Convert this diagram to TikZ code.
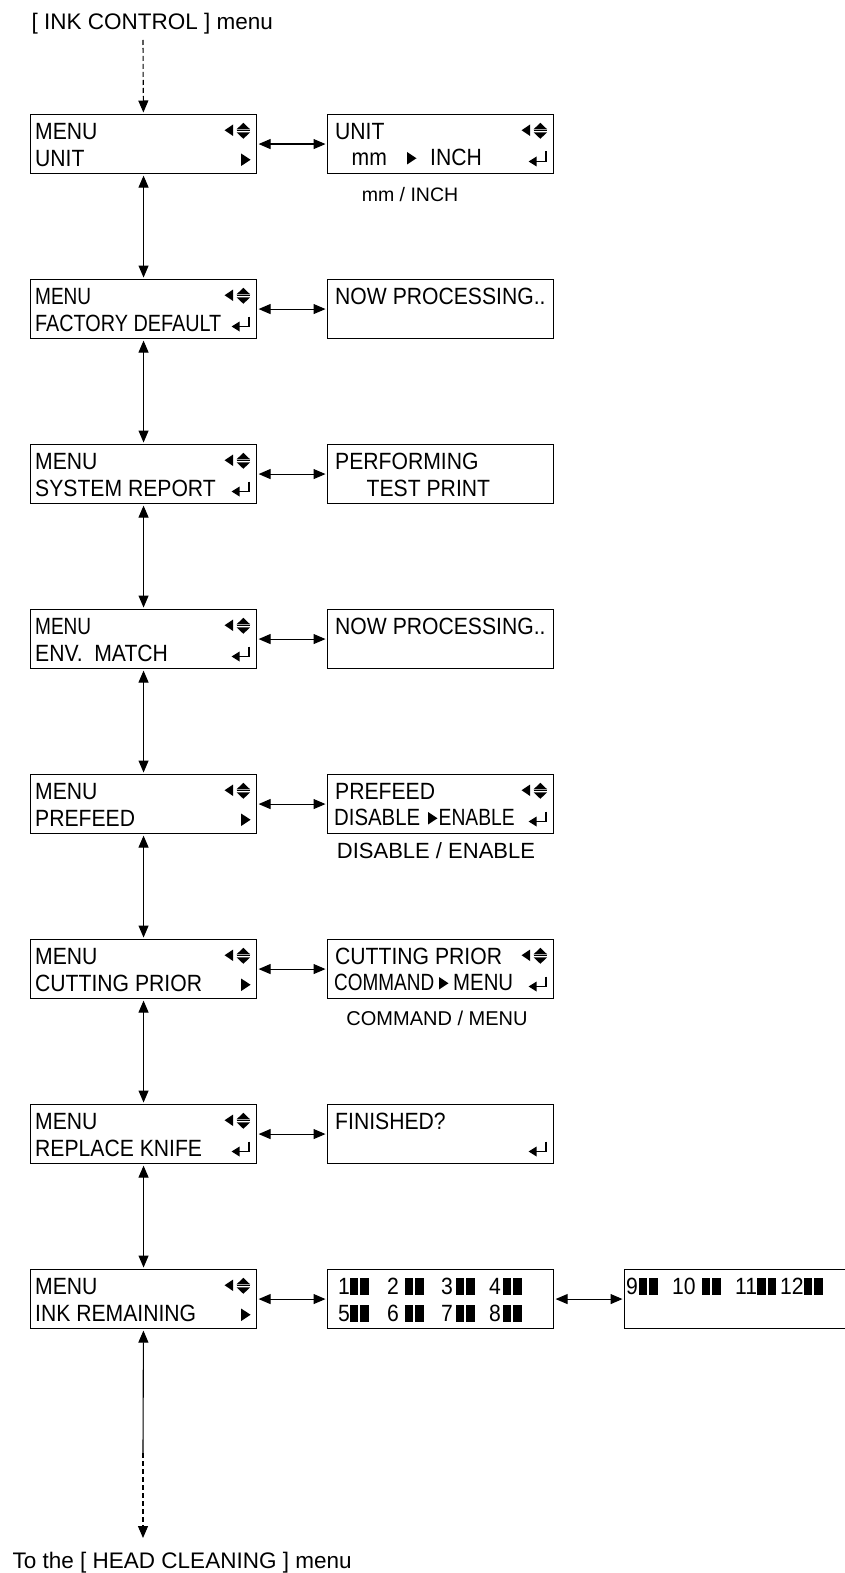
\documentclass[tikz,border=0pt]{standalone}
\usepackage{fontspec}
\usepackage{graphicx}
\setmainfont{Liberation Sans}
\newfontfamily\lcdfont[FakeStretch=0.9]{Liberation Sans}
\usetikzlibrary{arrows.meta}
\newcommand\blk{\rule{8.5pt}{17pt}\hspace{2pt}\rule{8.5pt}{17pt}}
\newcommand\lcdsize{\fontsize{23.5}{26}\selectfont}
\newcommand\fw[2]{\resizebox{#1}{\height}{#2}}
\tikzset{
  panel/.style={draw, line width=1.1pt, minimum width=226pt, minimum height=59pt, inner sep=0pt, anchor=north west},
  lcd/.style={inner sep=0pt, anchor=base west, font=\lcdfont\lcdsize},
  lbl/.style={inner sep=0pt, anchor=base},
  conn/.style={line width=1.1pt, {Triangle[length=12pt,width=10pt]}-{Triangle[length=12pt,width=10pt]}, shorten <=1.5pt, shorten >=1.5pt},
  updn/.pic={
    \fill (-24,10.5) -- (-24,22) -- (-32.5,16.25) -- cycle;
    \fill (-20.5,15.3) -- (-7,15.3) -- (-13.75,8.8) -- cycle;
    \draw[line width=0.8pt] (-20.5,16.8) -- (-7,16.8);
    \fill (-20.5,18.3) -- (-7,18.3) -- (-13.75,24.8) -- cycle;
  },
  rtri/.pic={\fill (0,-1) -- (0,-13.5) -- (9.5,-7.25) -- cycle;},
  ret/.pic={
    \draw[line width=1.7pt] (-8,37.5) -- (-8,47.5) -- (-18,47.5);
    \fill (-25.5,47.5) -- (-17.5,42.5) -- (-17.5,52.5) -- cycle;
  }
}
\begin{document}
\begin{tikzpicture}[x=1pt,y=-1pt]
\clip (0,0) rectangle (845,1573);
\fill[white] (0,0) rectangle (845,1573);

% title
\node[inner sep=0pt, anchor=base west, font=\fontsize{22.5}{24}\selectfont] (title) at (31.5,29.3) {[ INK CONTROL ] menu};
\coordinate (topdash) at (143,40);

% ---------- left panels ----------
\node[panel] (L0) at (30,114) {};
\node[lcd] (L0a) at (35,139.5) {MENU};
\node[lcd] (L0b) at (35,166.5) {UNIT};
\pic at (L0.north east) {updn};
\pic at ([shift={(-16,53)}]L0.north east) {rtri};

\node[panel] (L1) at (30,279) {};
\node[lcd] (L1a) at (35,304.5) {\fw{56pt}{MENU}};
\node[lcd] (L1b) at (35,331.5) {\fw{186pt}{FACTORY DEFAULT}};
\pic at (L1.north east) {updn};
\pic at (L1.north east) {ret};

\node[panel] (L2) at (30,444) {};
\node[lcd] (L2a) at (35,469.5) {MENU};
\node[lcd] (L2b) at (35,496.5) {SYSTEM REPORT};
\pic at (L2.north east) {updn};
\pic at (L2.north east) {ret};

\node[panel] (L3) at (30,609) {};
\node[lcd] (L3a) at (35,634.5) {\fw{56pt}{MENU}};
\node[lcd] (L3b) at (35,661.5) {ENV.\ \ MATCH};
\pic at (L3.north east) {updn};
\pic at (L3.north east) {ret};

\node[panel] (L4) at (30,774) {};
\node[lcd] (L4a) at (35,799.5) {MENU};
\node[lcd] (L4b) at (35,826.5) {PREFEED};
\pic at (L4.north east) {updn};
\pic at ([shift={(-16,53)}]L4.north east) {rtri};

\node[panel] (L5) at (30,939) {};
\node[lcd] (L5a) at (35,964.5) {MENU};
\node[lcd] (L5b) at (35,991.5) {CUTTING PRIOR};
\pic at (L5.north east) {updn};
\pic at ([shift={(-16,53)}]L5.north east) {rtri};

\node[panel] (L6) at (30,1104) {};
\node[lcd] (L6a) at (35,1129.5) {MENU};
\node[lcd] (L6b) at (35,1156.5) {REPLACE KNIFE};
\pic at (L6.north east) {updn};
\pic at (L6.north east) {ret};

\node[panel] (L7) at (30,1269) {};
\node[lcd] (L7a) at (35,1294.5) {MENU};
\node[lcd] (L7b) at (35,1321.5) {INK REMAINING};
\pic at (L7.north east) {updn};
\pic at ([shift={(-16,53)}]L7.north east) {rtri};

% ---------- right panels ----------
\node[panel] (R0) at (327,114) {};
\node[lcd] (R0a) at (335,139.5) {UNIT};
\node[lcd] (R0m) at (351.5,165.5) {mm};
\pic at (407,165.5) {rtri};
\node[lcd] (R0i) at (430,165.5) {INCH};
\pic at (R0.north east) {updn};
\pic at (R0.north east) {ret};
\node[lbl, font=\fontsize{19.5}{22}\selectfont] (R0lbl) at (410,201.5) {mm / INCH};

\node[panel] (R1) at (327,279) {};
\node[lcd] (R1a) at (335,304.5) {NOW PROCESSING..};

\node[panel] (R2) at (327,444) {};
\node[lcd] (R2a) at (335,469.5) {PERFORMING};
\node[lcd] (R2b) at (366.5,496) {TEST PRINT};

\node[panel] (R3) at (327,609) {};
\node[lcd] (R3a) at (335,634.5) {NOW PROCESSING..};

\node[panel] (R4) at (327,774) {};
\node[lcd] (R4a) at (335,799.5) {PREFEED};
\node[lcd] (R4d) at (334,825.5) {\fw{86pt}{DISABLE}};
\pic at (428,825.5) {rtri};
\node[lcd] (R4e) at (438.5,825.5) {\fw{76pt}{ENABLE}};
\pic at (R4.north east) {updn};
\pic at (R4.north east) {ret};
\node[lbl, font=\fontsize{22}{24}\selectfont] (R4lbl) at (436,858) {DISABLE / ENABLE};

\node[panel] (R5) at (327,939) {};
\node[lcd] (R5a) at (335,964.5) {CUTTING PRIOR};
\node[lcd] (R5c) at (334,990.5) {\fw{100pt}{COMMAND}};
\pic at (439,990.5) {rtri};
\node[lcd] (R5m) at (453,990.5) {\fw{60pt}{MENU}};
\pic at (R5.north east) {updn};
\pic at (R5.north east) {ret};
\node[lbl, font=\fontsize{20}{22}\selectfont] (R5lbl) at (437,1025) {COMMAND / MENU};

\node[panel] (R6) at (327,1104) {};
\node[lcd] (R6a) at (335,1129.5) {FINISHED?};
\pic at (R6.north east) {ret};

\node[panel] (R7) at (327,1269) {};
\node[lcd] (R7a) at (338,1294.5) {\makebox[49pt][l]{1\blk}\makebox[54pt][l]{2 \blk}\makebox[48pt][l]{3\hspace{3pt}\blk}4\hspace{2pt}\blk};
\node[lcd] (R7b) at (338,1321.5) {\makebox[49pt][l]{5\blk}\makebox[54pt][l]{6 \blk}\makebox[48pt][l]{7\hspace{3pt}\blk}8\hspace{2pt}\blk};

\node[panel, minimum width=246pt] (X7) at (624,1269) {};
\node[lcd] (X7a) at (626,1294.5) {\makebox[46pt][l]{9\hspace{1pt}\blk}\makebox[63pt][l]{10 \blk}\makebox[45pt][l]{11\blk}12\blk};

% ---------- connectors ----------
\draw[line width=1.1pt, dash pattern=on 5pt off 3pt, -{Triangle[length=12pt,width=10pt]}, shorten >=1.5pt] (topdash) -- (L0);
\draw[conn] (L0) -- (L1);
\draw[conn] (L1) -- (L2);
\draw[conn] (L2) -- (L3);
\draw[conn] (L3) -- (L4);
\draw[conn] (L4) -- (L5);
\draw[conn] (L5) -- (L6);
\draw[conn] (L6) -- (L7);

\draw[conn] (L0) -- (R0);
\draw[conn] (L1) -- (R1);
\draw[conn] (L2) -- (R2);
\draw[conn] (L3) -- (R3);
\draw[conn] (L4) -- (R4);
\draw[conn] (L5) -- (R5);
\draw[conn] (L6) -- (R6);
\draw[conn] (L7) -- (R7);
\draw[conn] (R7) -- (X7);

\coordinate (botsplit) at (143,1453);
\coordinate (botend) at (143,1538);
\draw[line width=1.1pt, {Triangle[length=12pt,width=10pt]}-, shorten <=1.5pt] (L7) -- (botsplit);
\draw[line width=1.1pt, dash pattern=on 5pt off 3pt, -{Triangle[length=12pt,width=10pt]}] (botsplit) -- (botend);

\node[inner sep=0pt, anchor=base west, font=\fontsize{22.5}{24}\selectfont] (bottom) at (12.5,1568) {To the [ HEAD CLEANING ] menu};
\end{tikzpicture}
\end{document}
